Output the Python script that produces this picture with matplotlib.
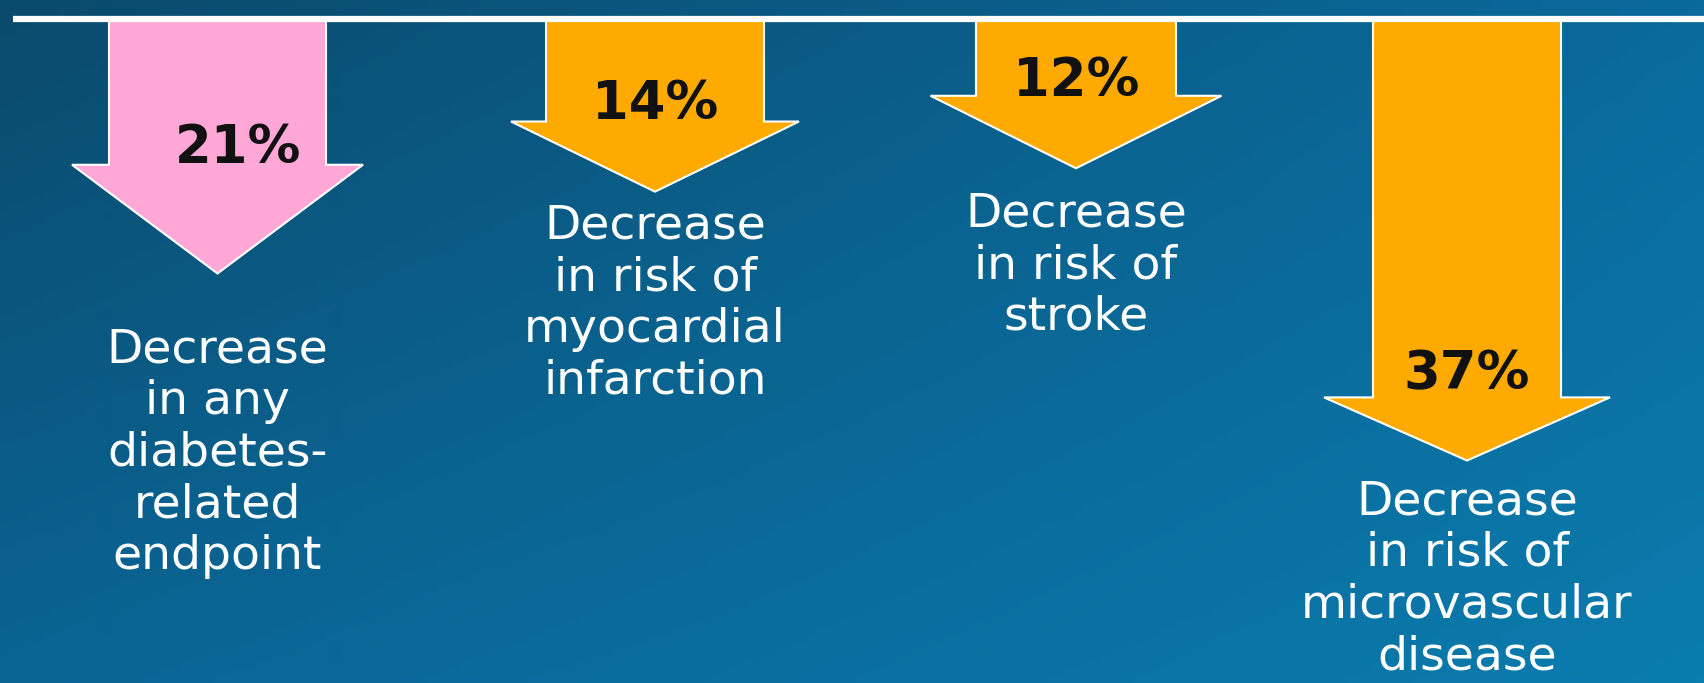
import numpy as np
import matplotlib
matplotlib.use("Agg")
import matplotlib.pyplot as plt
from matplotlib.patches import Polygon

# risk reductions, percent
pct = [21, 14, 12, 37]
colors = ['#FFA8D8', '#FFAA00', '#FFAA00', '#FFAA00']
labels = ["Decrease\nin any\ndiabetes-\nrelated\nendpoint",
          "Decrease\nin risk of\nmyocardial\ninfarction",
          "Decrease\nin risk of\nstroke",
          "Decrease\nin risk of\nmicrovascular\ndisease"]

# layout (pixels across, percent units down)
xc = [217.5, 655, 1076, 1467]
shaft_hw = [108.5, 109, 100, 94]
head_hw = [145.5, 144, 145.5, 143]
head_len = [9.3, 6.0, 6.2, 5.4]
pct_pos = [(238, 10.3), (655, 6.5), (1076, 4.5), (1467, 29.6)]
text_top = [25.6, 15.0, 14.0, 38.6]

W, H = 1704, 683
PX = 11.69      # pixels per percent
Y0 = 28.0       # pixel row of 0 %
BASE = -0.77    # white rule

fig = plt.figure(figsize=(W / 100, H / 100), dpi=100)
ax = fig.add_axes([0, 0, 1, 1])
ax.set_xlim(0, W)
ax.set_ylim((H - Y0) / PX, -Y0 / PX)
ax.axis('off')

# background gradient
tl = np.array([0x0A, 0x4A, 0x6C]) / 255
tr = np.array([0x0A, 0x6A, 0x9C]) / 255
bl = np.array([0x0A, 0x64, 0x94]) / 255
br = np.array([0x0A, 0x7C, 0xAE]) / 255
u = np.linspace(0, 1, 200)[None, :, None]
v = np.linspace(0, 1, 100)[:, None, None]
bg = (1 - v) * ((1 - u) * tl + u * tr) + v * ((1 - u) * bl + u * br)
ax.imshow(bg, extent=[0, W, (H - Y0) / PX, -Y0 / PX], aspect='auto', zorder=0)

ax.plot([13, W], [BASE, BASE], color='white', lw=4.5, solid_capstyle='butt', zorder=3)

for i in range(len(pct)):
    x = xc[i]
    s = shaft_hw[i]
    h = head_hw[i]
    sh = pct[i] - head_len[i]
    pts = [(x - s, BASE), (x + s, BASE), (x + s, sh), (x + h, sh),
           (x, pct[i]), (x - h, sh), (x - s, sh)]
    ax.add_patch(Polygon(pts, closed=True, facecolor=colors[i],
                         edgecolor='white', lw=1.5, zorder=2))
    ax.text(pct_pos[i][0], pct_pos[i][1], "%d%%" % pct[i], ha='center', va='center',
            fontsize=38, fontweight='bold', color='#111111', zorder=4)
    ax.text(x, text_top[i], labels[i], ha='center', va='top', fontsize=34,
            color='white', linespacing=1.19, zorder=4)

fig.savefig("out.png", dpi=100)
